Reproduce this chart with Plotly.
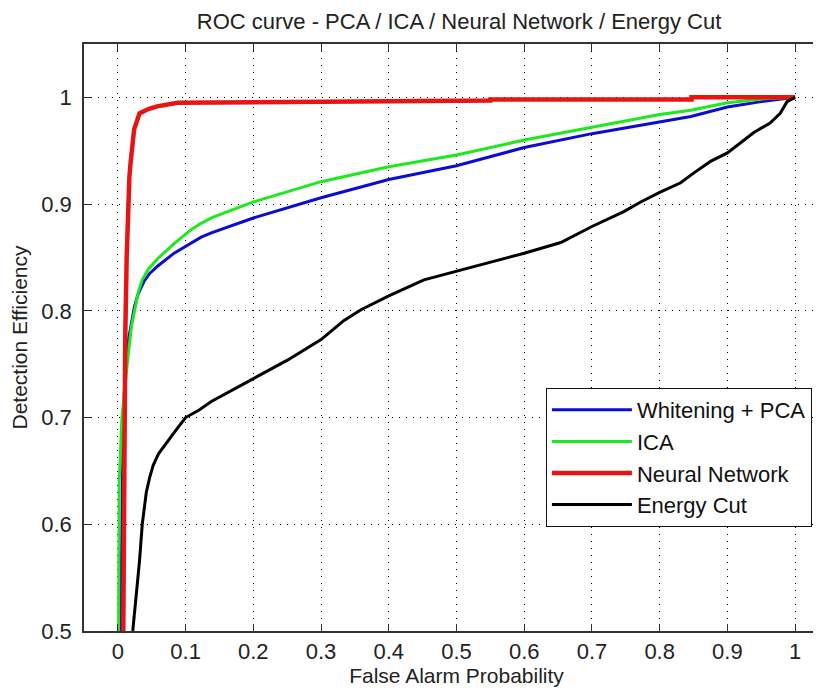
import plotly.graph_objects as go

# ---- data ----
pca_x = [0.004, 0.008, 0.012, 0.017, 0.0245, 0.030, 0.039, 0.047, 0.059, 0.083, 0.108, 0.123, 0.138, 0.2, 0.3, 0.4, 0.5, 0.6, 0.7, 0.8, 0.846, 0.9, 0.95, 1.0]
pca_y = [0.5, 0.70, 0.76, 0.779, 0.804, 0.816, 0.828, 0.835, 0.842, 0.854, 0.863, 0.869, 0.873, 0.887, 0.906, 0.923, 0.936, 0.953, 0.966, 0.977, 0.982, 0.991, 0.996, 1.0]

ica_x = [0.001, 0.002, 0.006, 0.012, 0.015, 0.02, 0.025, 0.030, 0.036, 0.045, 0.059, 0.083, 0.108, 0.123, 0.138, 0.2, 0.3, 0.4, 0.5, 0.6, 0.7, 0.8, 0.846, 0.9, 0.96, 1.0]
ica_y = [0.5, 0.64, 0.70, 0.74, 0.757, 0.785, 0.803, 0.817, 0.829, 0.839, 0.849, 0.863, 0.876, 0.882, 0.887, 0.902, 0.921, 0.935, 0.946, 0.960, 0.972, 0.984, 0.988, 0.995, 0.999, 1.0]

nn_x = [0.008, 0.009, 0.011, 0.013, 0.015, 0.017, 0.019, 0.024, 0.032, 0.045, 0.058, 0.088, 0.55, 0.55, 0.847, 0.847, 1.0]
nn_y = [0.5, 0.70, 0.78, 0.85, 0.913, 0.925, 0.94, 0.97, 0.985, 0.989, 0.9916, 0.995, 0.997, 0.998, 0.998, 1.0, 1.0]

ec_x = [0.022, 0.027, 0.032, 0.036, 0.042, 0.047, 0.052, 0.060, 0.069, 0.079, 0.088, 0.100, 0.120, 0.138, 0.170, 0.200, 0.251, 0.300, 0.334, 0.359, 0.400, 0.452, 0.500, 0.551, 0.600, 0.654, 0.700, 0.747, 0.772, 0.800, 0.831, 0.850, 0.875, 0.900, 0.919, 0.939, 0.963, 0.978, 0.988, 1.0]
ec_y = [0.500, 0.530, 0.566, 0.600, 0.630, 0.644, 0.655, 0.666, 0.674, 0.683, 0.690, 0.700, 0.707, 0.715, 0.726, 0.737, 0.754, 0.773, 0.791, 0.801, 0.814, 0.829, 0.837, 0.846, 0.854, 0.864, 0.879, 0.893, 0.902, 0.911, 0.920, 0.929, 0.940, 0.948, 0.957, 0.967, 0.976, 0.985, 0.996, 1.0]

x_ticks = [0, 0.1, 0.2, 0.3, 0.4, 0.5, 0.6, 0.7, 0.8, 0.9, 1]
x_tick_labels = ["0", "0.1", "0.2", "0.3", "0.4", "0.5", "0.6", "0.7", "0.8", "0.9", "1"]
y_ticks = [0.5, 0.6, 0.7, 0.8, 0.9, 1]
y_tick_labels = ["0.5", "0.6", "0.7", "0.8", "0.9", "1"]

FONT = "Liberation Sans, Arial, sans-serif"

fig = go.Figure()
fig.add_trace(go.Scatter(x=pca_x, y=pca_y, mode="lines", name="Whitening + PCA",
                         line=dict(color="#0c0cd0", width=3)))
fig.add_trace(go.Scatter(x=ica_x, y=ica_y, mode="lines", name="ICA",
                         line=dict(color="#1ee81e", width=3)))
fig.add_trace(go.Scatter(x=nn_x, y=nn_y, mode="lines", name="Neural Network",
                         line=dict(color="#e81414", width=4.5)))
fig.add_trace(go.Scatter(x=ec_x, y=ec_y, mode="lines", name="Energy Cut",
                         line=dict(color="#000000", width=3)))

fig.update_layout(
    width=821, height=692,
    margin=dict(l=76, r=0, t=36, b=69),
    paper_bgcolor="white", plot_bgcolor="white",
    font=dict(family=FONT, size=22, color="#222"),
    title=dict(text="ROC curve - PCA / ICA / Neural Network / Energy Cut",
               x=451 / 821, xanchor="center", y=1 - 13 / 692, yanchor="middle",
               font=dict(size=22, color="#222")),
    legend=dict(x=0.620, xanchor="left", y=0.414, yanchor="top",
                bgcolor="white", bordercolor="#111", borderwidth=1,
                font=dict(size=22, color="#111"), itemwidth=80,
                tracegroupgap=0),
    showlegend=True,
)
fig.update_xaxes(
    range=[-0.05, 1.05], tickvals=x_ticks, ticktext=x_tick_labels,
    showgrid=True, gridcolor="#000", gridwidth=1, griddash="1px,6px",
    zeroline=False, showline=True, linecolor="#333", linewidth=1.5,
    mirror="ticks", ticks="inside", ticklen=7, tickcolor="#333",
    automargin=False, tickfont=dict(size=22),
    title=dict(text="False Alarm Probability", standoff=4, font=dict(size=21)),
)
fig.update_yaxes(
    range=[0.5, 1.05], tickvals=y_ticks, ticktext=y_tick_labels,
    showgrid=True, gridcolor="#000", gridwidth=1, griddash="1px,6px",
    zeroline=False, showline=True, linecolor="#333", linewidth=1.5,
    mirror=False, ticks="inside", ticklen=7, tickcolor="#333",
    ticklabelstandoff=6, automargin=False, tickfont=dict(size=22),
    title=dict(text="Detection Efficiency", standoff=10, font=dict(size=21)),
)

fig.write_html("out.html")
